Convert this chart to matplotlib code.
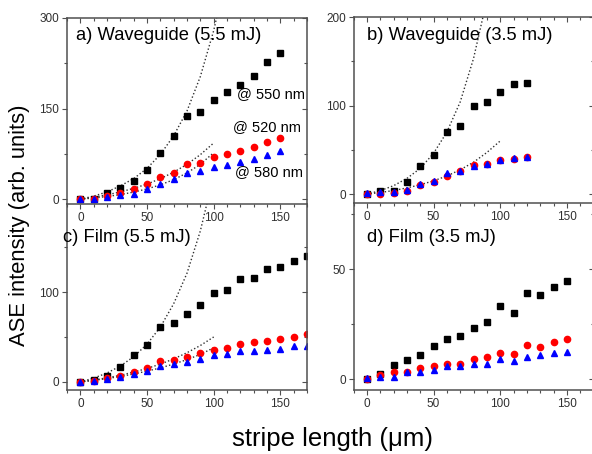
"""ASE intensity vs stripe length, 4 panels (waveguide / film, 5.5 and 3.5 mJ)."""

import matplotlib
matplotlib.use("Agg")
import matplotlib.pyplot as plt
from matplotlib.ticker import MultipleLocator

plt.rcParams["font.family"] = ["Liberation Sans", "DejaVu Sans"]

# --- data ----------------------------------------------------------------
# a) Waveguide (5.5 mJ)
a_x = [0, 10, 20, 30, 40, 50, 60, 70, 80, 90, 100, 110, 120, 130, 140, 150]
a_550 = [0, 1, 10.5, 19, 30, 49, 77, 105, 138, 145, 165, 178, 189, 204, 227, 242]
a_520 = [0, 1, 6, 11, 17, 25, 37, 44, 58, 60, 69, 74, 79, 86, 95, 101]
a_580 = [0, 1, 4, 7, 9, 17, 25, 33, 43, 46, 53, 57, 62, 66, 73, 79]
a_fit_x = [0, 10, 20, 30, 40, 50, 60, 70, 80, 90, 100]
a_fit_550_x = [0, 10, 20, 30, 40, 50, 60, 70, 80, 90, 100, 104]
a_fit_550 = [0, 5, 12, 22, 34, 51, 74, 105, 146, 203, 279, 318]
a_fit_520 = [0, 3.2, 7.2, 12, 17.9, 25, 33.9, 44.7, 57.7, 73.7, 93]
a_fit_580 = [0, 1.9, 4.4, 7.6, 11.7, 17, 23.7, 32.3, 43.5, 57.7, 77]

# b) Waveguide (3.5 mJ)
b_x = [0, 10, 20, 30, 40, 50, 60, 70, 80, 90, 100, 110, 120]
b_550 = [0, 3, 4, 14, 32, 44, 70, 77, 100, 104, 115, 124, 126]
b_520 = [0, 0, 1, 4, 10, 14, 21, 26, 33, 34, 38, 40, 42]
b_580 = [1, 2, 2, 5, 11, 15, 24, 26, 32, 34, 38, 41, 42]
b_fit_550_x = [0, 10, 20, 30, 40, 50, 60, 70, 80, 88]
b_fit_550 = [0, 3.9, 9.5, 17.7, 29, 46, 70, 104, 153, 206]
b_fit_x = [0, 10, 20, 30, 40, 50, 60, 70, 80, 90, 100]
b_fit_520 = [0, 1.8, 4.1, 7, 10.6, 15, 20.5, 27.5, 36, 47, 60]

# c) Film (5.5 mJ)
c_x = [0, 10, 20, 30, 40, 50, 60, 70, 80, 90, 100, 110, 120, 130, 140, 150, 160, 170]
c_550 = [0, 2, 7, 17, 30, 41, 61, 66, 76, 86, 99, 102, 114, 116, 126, 128, 135, 140]
c_520 = [0, 1, 4, 7, 11, 15, 23, 24, 28, 32, 36, 38, 42, 44, 46, 48, 50, 53]
c_580 = [0, 1, 3, 5, 9, 12, 18, 20, 22, 26, 30, 31, 34, 34, 36, 37, 40, 40]
c_fit_550_x = [0, 10, 20, 30, 40, 50, 60, 70, 80, 90, 96]
c_fit_550 = [0, 4.2, 9.9, 17.7, 28, 42, 61, 87, 121, 168, 205]
c_fit_x = [0, 10, 20, 30, 40, 50, 60, 70, 80, 90, 100]
c_fit_520 = [0, 2.1, 4.5, 7.4, 10.9, 15, 19.8, 25.6, 32.5, 40.5, 50]
c_fit_580 = [0, 1.7, 3.7, 6.1, 8.8, 12, 15.6, 19.9, 24.8, 30.6, 38]

# d) Film (3.5 mJ)
d_x = [0, 10, 20, 30, 40, 50, 60, 70, 80, 90, 100, 110, 120, 130, 140, 150]
d_550 = [0, 2.4, 6.5, 8.8, 11, 15, 18, 19.4, 23, 26, 33, 30, 39, 38, 42, 44.5]
d_520 = [0, 2, 3, 3, 5, 6, 7, 7, 9, 10, 12, 11.5, 15.5, 14.7, 17, 18]
d_580 = [0.3, 1, 1, 3, 3, 4, 6, 6, 7, 7, 9, 8, 10, 11, 12, 12.5]

W, H = 592, 454
SPINE = "#505050"
TICK_TXT = "#303030"


def px_axes(fig, left, top, right, bottom):
    return fig.add_axes([left / W, 1 - bottom / H, (right - left) / W, (bottom - top) / H])


def style(ax, ylim, ymaj, ymin, top_spine=True):
    ax.set_xlim(-10, 170)
    ax.set_ylim(*ylim)
    ax.xaxis.set_major_locator(MultipleLocator(50))
    ax.xaxis.set_minor_locator(MultipleLocator(10))
    ax.yaxis.set_major_locator(MultipleLocator(ymaj))
    ax.yaxis.set_minor_locator(MultipleLocator(ymin))
    for s in ax.spines.values():
        s.set_color(SPINE)
        s.set_linewidth(1.1)
    ax.spines["top"].set_visible(top_spine)
    ax.tick_params(which="both", direction="out", colors=SPINE, labelcolor=TICK_TXT,
                   labelsize=8.5, width=0.8)
    ax.tick_params(which="major", length=3.5, pad=2)
    ax.tick_params(which="minor", length=2)
    ax.tick_params(which="both", top=top_spine, right=True)
    for t in ax.xaxis.get_ticklines(minor=True)[1::2] + ax.xaxis.get_ticklines()[1::2]:
        t.set_marker(3)  # top ticks pointing in
    for t in ax.yaxis.get_ticklines(minor=True)[1::2] + ax.yaxis.get_ticklines()[1::2]:
        t.set_marker(0)  # right ticks pointing in
    ax.set_facecolor("none")


def scatter3(ax, x, y550, y520, y580):
    ax.plot(x, y550, ls="none", marker="s", ms=4.2, color="black")
    ax.plot(x, y520, ls="none", marker="o", ms=4.5, color="red")
    ax.plot(x, y580, ls="none", marker="^", ms=5, color="blue")


def fit(ax, x, y):
    ax.plot(x, y, ls=(0, (1, 1.6)), lw=1.0, color="#303030")


fig = plt.figure(figsize=(W / 100, H / 100), dpi=100)

ax_c = px_axes(fig, 67, 204, 307, 390)
ax_d = px_axes(fig, 353.5, 203, 593.5, 390)
ax_a = px_axes(fig, 67, 18, 307, 204)
ax_b = px_axes(fig, 353.5, 17, 593.5, 203)

style(ax_a, (-8, 300), 150, 75)
style(ax_b, (-10, 200), 100, 50)
style(ax_c, (-9, 198), 100, 50, top_spine=False)
style(ax_d, (-5, 80), 50, 25, top_spine=False)

fit(ax_a, a_fit_550_x, a_fit_550)
fit(ax_a, a_fit_x, a_fit_520)
fit(ax_a, a_fit_x, a_fit_580)
scatter3(ax_a, a_x, a_550, a_520, a_580)

fit(ax_b, b_fit_550_x, b_fit_550)
fit(ax_b, b_fit_x, b_fit_520)
scatter3(ax_b, b_x, b_550, b_520, b_580)

fit(ax_c, c_fit_550_x, c_fit_550)
fit(ax_c, c_fit_x, c_fit_520)
fit(ax_c, c_fit_x, c_fit_580)
scatter3(ax_c, c_x, c_550, c_520, c_580)

scatter3(ax_d, d_x, d_550, d_520, d_580)

# panel titles
title_kw = dict(fontsize=13.2, va="center", ha="left", color="black")
fig.text(76 / W, 1 - 36 / H, "a) Waveguide (5.5 mJ)", **title_kw)
fig.text(367 / W, 1 - 35 / H, "b) Waveguide (3.5 mJ)", **title_kw)
fig.text(63 / W, 1 - 238 / H, "c) Film (5.5 mJ)", **title_kw)
fig.text(367 / W, 1 - 238 / H, "d) Film (3.5 mJ)", **title_kw)

# wavelength labels
lab_kw = dict(fontsize=10.5, va="center", ha="left", color="black")
fig.text(237 / W, 1 - 94 / H, "@ 550 nm", **lab_kw)
fig.text(233 / W, 1 - 127 / H, "@ 520 nm", **lab_kw)
fig.text(235 / W, 1 - 172 / H, "@ 580 nm", **lab_kw)

fig.text(20 / W, 1 - 225 / H, "ASE intensity (arb. units)", rotation=90,
         fontsize=15.8, ha="center", va="center")
fig.text(333 / W, 1 - 439 / H, "stripe length (\u03bcm)", fontsize=18.5,
         ha="center", va="center")

fig.savefig("out.png", dpi=100)
plt.close(fig)
